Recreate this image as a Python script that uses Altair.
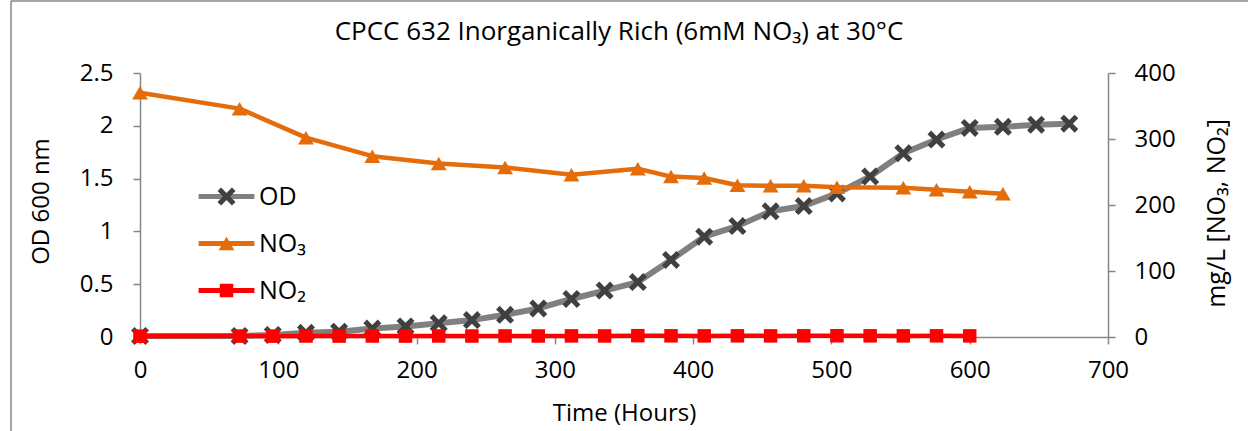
import altair as alt
import pandas as pd

# ---- data ----
od_hours = [0, 72, 96, 120, 144, 168, 192, 216, 240, 264, 288, 312, 336, 360,
            384, 408, 432, 456, 480, 504, 528, 552, 576, 600, 624, 648, 672]
od_values = [0.01, 0.01, 0.02, 0.04, 0.05, 0.08, 0.10, 0.13, 0.16, 0.21, 0.27, 0.36,
             0.44, 0.52, 0.73, 0.95, 1.05, 1.19, 1.24, 1.36, 1.52, 1.74, 1.87,
             1.98, 1.99, 2.01, 2.02]

no3_hours = [0, 72, 120, 168, 216, 264, 312, 360, 384, 408, 432, 456, 480, 504,
             552, 576, 600, 624]
no3_values = [370, 346, 302, 274, 263, 257, 246, 255, 243, 241, 230, 229, 229,
              227, 226, 223, 220, 217]

no2_hours = [0, 72, 96, 120, 144, 168, 192, 216, 240, 264, 288, 312, 336, 360,
             384, 408, 432, 456, 480, 504, 528, 552, 576, 600]
no2_values = [1.2, 1.4, 1.3, 1.5, 1.4, 1.5, 1.4, 1.6, 1.5, 1.6, 1.5, 1.7, 1.6,
              2.0, 1.8, 1.7, 1.8, 1.7, 1.8, 1.9, 1.8, 1.7, 1.8, 1.7]

series_names = ["OD", "NO₃", "NO₂"]
marker_keys = ["OD ", "NO₃ ", "NO₂ "]   # separate keys so the marker legend stays apart
line_colors = ["#808080", "#E46C0A", "#FF0000"]
marker_colors = ["#404040", "#E46C0A", "#FF0000"]

x_ticks = [0, 100, 200, 300, 400, 500, 600, 700]
od_ticks = [0, 0.5, 1, 1.5, 2, 2.5]
mg_ticks = [0, 100, 200, 300, 400]

# marker glyphs (unit square -1..1)
X_PATH = ("M-1,-0.6L-0.6,-1L0,-0.4L0.6,-1L1,-0.6L0.4,0L1,0.6L0.6,1"
          "L0,0.4L-0.6,1L-1,0.6L-0.4,0Z")
TRI_PATH = "M0,-0.75L0.88,0.75L-0.88,0.75Z"
SQ_PATH = "M-0.75,-0.75H0.75V0.75H-0.75Z"
LINE_PATH = "M-3.1,0H3.1"

FONT = "Open Sans"


def frame(hours, values, i):
    return pd.DataFrame({"hours": hours, "value": values,
                         "series": series_names[i], "marker": marker_keys[i]})


df_od = frame(od_hours, od_values, 0)
df_no3 = frame(no3_hours, no3_values, 1)
df_no2 = frame(no2_hours, no2_values, 2)

LEG_X, LEG_Y = 74, 111
common_leg = dict(orient="none", legendX=LEG_X, legendY=LEG_Y, title=None,
                  symbolSize=324, labelFontSize=25, labelFont=FONT,
                  labelColor="black", rowPadding=21, labelOffset=20, padding=0,
                  labelLimit=200)

stroke_enc = alt.Stroke(
    "series:N",
    scale=alt.Scale(domain=series_names, range=line_colors),
    legend=alt.Legend(symbolType=LINE_PATH, symbolStrokeWidth=5, **common_leg),
)
marker_legend = alt.Legend(symbolStrokeWidth=0, labelOpacity=0, **common_leg)
fill_enc = alt.Fill("marker:N",
                    scale=alt.Scale(domain=marker_keys, range=marker_colors),
                    legend=marker_legend)
shape_enc = alt.Shape("marker:N",
                      scale=alt.Scale(domain=marker_keys,
                                      range=[X_PATH, TRI_PATH, SQ_PATH]),
                      legend=marker_legend)

x_enc = alt.X("hours:Q",
              scale=alt.Scale(domain=[0, 700], nice=False),
              axis=alt.Axis(values=x_ticks, title="Time (Hours)",
                            labelFlush=False, labelPadding=14,
                            titlePadding=19))

y_left = alt.Y("value:Q",
               scale=alt.Scale(domain=[0, 2.5], nice=False),
               axis=alt.Axis(orient="left", values=od_ticks, format=".1~f",
                             title="OD 600 nm", labelPadding=20,
                             titlePadding=26, titleAngle=270, titleY=128))
y_right = alt.Y("value:Q",
                scale=alt.Scale(domain=[0, 400], nice=False),
                axis=alt.Axis(orient="right", values=mg_ticks,
                              title="mg/L [NO₃, NO₂]", labelPadding=19,
                              titlePadding=29, titleAngle=270,
                              titleBaseline="top", titleFontSize=25,
                              titleY=140))


def line_layer(df, width):
    return alt.Chart(df).mark_line(strokeWidth=width, strokeCap="round",
                                   strokeJoin="round").encode(
        x=x_enc, stroke=stroke_enc, order="hours:Q")


def point_layer(df):
    return alt.Chart(df).mark_point(filled=True, size=324, opacity=1,
                                    strokeWidth=0).encode(
        x=x_enc, fill=fill_enc, shape=shape_enc)


left = alt.layer(line_layer(df_od, 6), point_layer(df_od)).encode(y=y_left)
right = alt.layer(line_layer(df_no3, 4.5), point_layer(df_no3),
                  line_layer(df_no2, 4.5), point_layer(df_no2)).encode(y=y_right)

frame_df = pd.DataFrame({"k": [0]})
frame_left = alt.Chart(frame_df).mark_rule(color="#868686", strokeWidth=1.5).encode(
    x=alt.value(-129), y=alt.value(-72), y2=alt.value(360))
frame_top = alt.Chart(frame_df).mark_rule(color="#868686", strokeWidth=1.5).encode(
    x=alt.value(-129), x2=alt.value(1110), y=alt.value(-72))

chart = alt.layer(frame_left, frame_top, left, right).resolve_scale(
    y="independent"
).properties(
    width=968, height=264,
    title=alt.TitleParams("CPCC 632 Inorganically Rich (6mM NO₃)  at 30°C",
                          fontSize=26, font=FONT, fontWeight="normal",
                          color="black", frame="group", baseline="alphabetic",
                          offset=-66, anchor="middle", dx=-5),
    autosize=alt.AutoSizeParams(type="none"),
    padding={"left": 140, "top": 73, "right": 140, "bottom": 94},
    background="white",
).configure_view(stroke=None).configure_axis(
    grid=False, domainColor="#868686", tickColor="#868686", tickSize=7,
    domainWidth=1.5, tickWidth=1.5,
    labelFont=FONT, titleFont=FONT, labelFontSize=24, titleFontSize=24,
    labelColor="black", titleColor="black", titleFontWeight="normal",
)

chart.save("out.html", embed_options={"renderer": "svg", "actions": False})
